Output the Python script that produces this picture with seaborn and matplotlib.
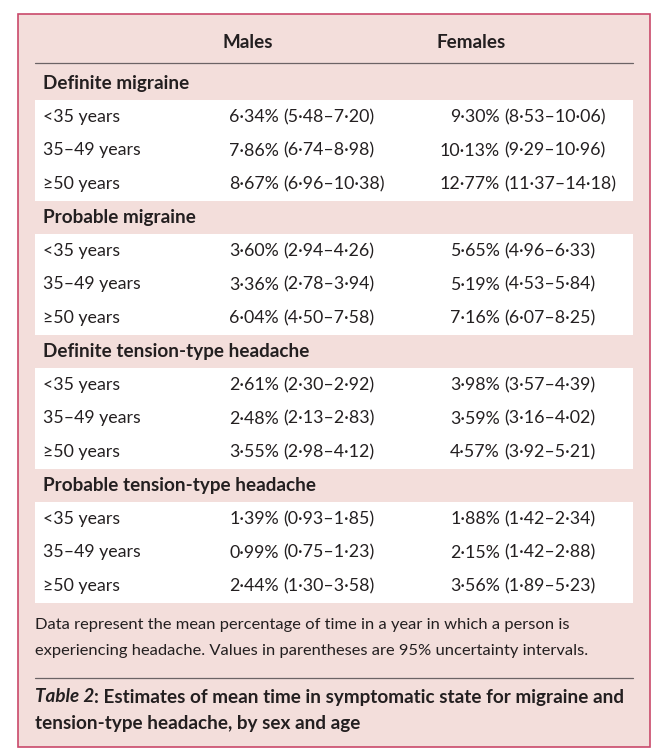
import matplotlib
matplotlib.use("Agg")
import matplotlib.pyplot as plt
import seaborn as sns
import pandas as pd

# Table content
groups = [
    "Definite migraine",
    "Probable migraine",
    "Definite tension-type headache",
    "Probable tension-type headache",
]
ages = ["<35 years", "35–49 years", "≥50 years"]
columns = ["Males", "Females"]

males_mean = [6.34, 7.86, 8.67, 3.60, 3.36, 6.04, 2.61, 2.48, 3.55, 1.39, 0.99, 2.44]
males_lo = [5.48, 6.74, 6.96, 2.94, 2.78, 4.50, 2.30, 2.13, 2.98, 0.93, 0.75, 1.30]
males_hi = [7.20, 8.98, 10.38, 4.26, 3.94, 7.58, 2.92, 2.83, 4.12, 1.85, 1.23, 3.58]
females_mean = [9.30, 10.13, 12.77, 5.65, 5.19, 7.16, 3.98, 3.59, 4.57, 1.88, 2.15, 3.56]
females_lo = [8.53, 9.29, 11.37, 4.96, 4.53, 6.07, 3.57, 3.16, 3.92, 1.42, 1.42, 1.89]
females_hi = [10.06, 10.96, 14.18, 6.33, 5.84, 8.25, 4.39, 4.02, 5.21, 2.34, 2.88, 5.23]

footnote = [
    "Data represent the mean percentage of time in a year in which a person is",
    "experiencing headache. Values in parentheses are 95% uncertainty intervals.",
]
caption_label = "Table 2"
caption = [
    ": Estimates of mean time in symptomatic state for migraine and",
    "tension-type headache, by sex and age",
]

df = pd.DataFrame({
    "group": [g for g in groups for _ in ages],
    "age": ages * len(groups),
    "m_mean": males_mean, "m_lo": males_lo, "m_hi": males_hi,
    "f_mean": females_mean, "f_lo": females_lo, "f_hi": females_hi,
})


def fmt(v):
    return f"{v:.2f}".replace(".", "·")


sns.set_theme(style="white")
FONT = ["Lato", "DejaVu Sans"]
plt.rcParams["font.family"] = FONT

TEXT = "#231f20"
PINK = "#f3dedb"
BORDER = "#c9496b"
FS = 12.8      # body rows
FS_B = 13.6    # bold headers / caption
FS_N = 11.85   # footnote

fig = plt.figure(figsize=(6.63, 7.54), dpi=100)
ax = fig.add_axes([0, 0, 1, 1])
ax.set_xlim(0, 663)
ax.set_ylim(754, 0)
ax.axis("off")

# Outer box
ax.add_patch(plt.Rectangle((18, 14), 632, 733, facecolor=PINK, edgecolor=BORDER, lw=1.2))

# Column headers
ax.text(248, 43, columns[0], ha="center", va="center", fontsize=FS_B, fontweight="bold", color=TEXT)
ax.text(471, 43, columns[1], ha="center", va="center", fontsize=FS_B, fontweight="bold", color=TEXT)
ax.plot([35, 633], [63, 63], color="#6b6365", lw=0.9)

# Groups
for gi, g in enumerate(groups):
    y0 = 134 * gi
    ax.text(43, 83 + y0, g, ha="left", va="center", fontsize=FS_B, fontweight="bold", color=TEXT)
    ax.add_patch(plt.Rectangle((35, 100 + y0), 598, 101, facecolor="white", edgecolor="none"))
    sub = df[df["group"] == g].reset_index(drop=True)
    for i, r in sub.iterrows():
        y = 117 + y0 + 33.5 * i
        ax.text(43, y, r["age"], ha="left", va="center", fontsize=FS, color=TEXT)
        ax.text(279, y, fmt(r["m_mean"]) + "%", ha="right", va="center", fontsize=FS, color=TEXT)
        ax.text(283, y, f"({fmt(r['m_lo'])}–{fmt(r['m_hi'])})", ha="left", va="center",
                fontsize=FS, color=TEXT)
        ax.text(500, y, fmt(r["f_mean"]) + "%", ha="right", va="center", fontsize=FS, color=TEXT)
        ax.text(504, y, f"({fmt(r['f_lo'])}–{fmt(r['f_hi'])})", ha="left", va="center",
                fontsize=FS, color=TEXT)

# Footnote
for k, line in enumerate(footnote):
    ax.text(35, 625 + 26 * k, line, ha="left", va="center", fontsize=FS_N, color=TEXT)
ax.plot([35, 633], [678, 678], color="#6b6365", lw=0.9)

# Caption
lab = ax.text(35, 697, caption_label, ha="left", va="center", fontsize=FS_B, fontweight="bold",
              fontstyle="italic", color=TEXT)
fig.canvas.draw()
bb = lab.get_window_extent(fig.canvas.get_renderer())
x_end = bb.x1  # axes spans the whole figure, so pixel x == data x
ax.text(x_end, 697, caption[0], ha="left", va="center", fontsize=FS_B, fontweight="bold", color=TEXT)
ax.text(35, 723, caption[1], ha="left", va="center", fontsize=FS_B, fontweight="bold", color=TEXT)

fig.savefig("out.png", dpi=100, facecolor="white")
